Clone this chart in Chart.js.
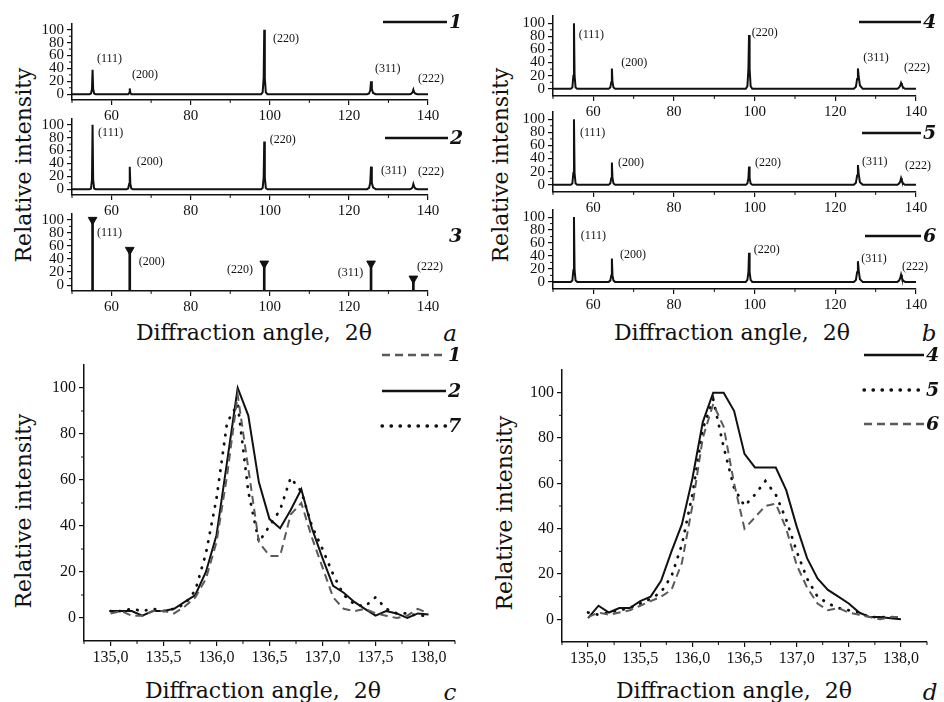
<!DOCTYPE html>
<html>
<head>
<meta charset="utf-8">
<script src="https://cdn.jsdelivr.net/npm/chart.js@4.4.1/dist/chart.umd.min.js"></script>
<style>
  body { margin: 0; background: #fff; }
  #fig { position: relative; width: 944px; height: 702px; overflow: hidden; }
  #fig canvas { position: absolute; left: 0; top: 0; }
  .t { position: absolute; font-family: "DejaVu Serif", serif; color: #111; white-space: nowrap; }
  .xt { font-size: 22px; transform: translate(-50%, -50%); }
  .yt { font-size: 22px; transform: translate(-50%, -50%) rotate(-90deg); }
  .pl { font-size: 23px; font-style: italic; transform: translate(-50%, -50%); }
</style>
</head>
<body>
<div id="fig">
  <div class="t xt" style="left:254px;top:332px">Diffraction angle,&nbsp; 2θ</div>
  <div class="t xt" style="left:732px;top:332px">Diffraction angle,&nbsp; 2θ</div>
  <div class="t xt" style="left:263px;top:690px">Diffraction angle,&nbsp; 2θ</div>
  <div class="t xt" style="left:734px;top:690px">Diffraction angle,&nbsp; 2θ</div>
  <div class="t yt" style="left:23px;top:165px">Relative intensity</div>
  <div class="t yt" style="left:500px;top:165px">Relative intensity</div>
  <div class="t yt" style="left:23px;top:511px">Relative intensity</div>
  <div class="t yt" style="left:504px;top:513px">Relative intensity</div>
  <div class="t pl" style="left:450px;top:333px">a</div>
  <div class="t pl" style="left:929px;top:333px">b</div>
  <div class="t pl" style="left:450px;top:692px">c</div>
  <div class="t pl" style="left:930px;top:692px">d</div>
</div>
<script>
// survey scans, 2θ sampling around each reflection
const scanAngles = [50,
  54.4, 54.8, 55.05, 55.2, 55.35, 55.6, 56.0,
  63.8, 64.2, 64.45, 64.6, 64.75, 65.0, 65.4,
  97.8, 98.2, 98.45, 98.6, 98.75, 99.0, 99.4,
  124.6, 125.1, 125.4, 125.6, 125.8, 126.1, 126.8,
  135.4, 135.8, 136.1, 136.3, 136.5, 136.8, 137.3,
  140];
const scan1 = [0, 0, 1, 8, 38, 8, 1, 0, 0, 0, 2, 9, 2, 0, 0, 0, 3, 25, 100, 25, 3, 0, 0, 1, 6, 20, 8, 2, 0, 0, 1, 3, 7, 3, 1, 0, 0];
const scan2 = [0, 0, 1, 15, 100, 15, 1, 0, 0, 1, 8, 35, 8, 1, 0, 0, 2, 18, 74, 18, 2, 0, 0, 2, 10, 35, 10, 3, 0, 0, 1, 3, 8, 4, 1, 0, 0];
const scan4 = [0, 0, 2, 20, 100, 20, 2, 0, 0, 2, 10, 31, 10, 2, 0, 0, 4, 30, 82, 30, 4, 0, 0, 3, 15, 31, 18, 5, 0, 0, 2, 5, 9, 6, 2, 0, 0];
const scan5 = [0, 0, 2, 18, 100, 18, 2, 0, 0, 2, 10, 34, 10, 2, 0, 0, 2, 10, 28, 10, 2, 0, 0, 3, 14, 30, 16, 4, 0, 0, 2, 5, 10, 6, 2, 0, 0];
const scan6 = [0, 0, 2, 18, 100, 18, 2, 0, 0, 2, 10, 36, 10, 2, 0, 0, 3, 15, 45, 15, 3, 0, 0, 3, 15, 32, 17, 4, 0, 0, 2, 6, 11, 6, 2, 0, 0];

// reference card (sticks)
const refAngles = [55.2, 64.6, 98.6, 125.6, 136.3];
const refHeights = [100, 54, 33, 33, 10];
const hkl = ["(111)", "(200)", "(220)", "(311)", "(222)"];

// (222) reflection, fine scan
const fineAngles = [135.0, 135.1, 135.2, 135.3, 135.4, 135.5, 135.6, 135.7, 135.8, 135.9,
  136.0, 136.1, 136.2, 136.3, 136.4, 136.5, 136.6, 136.7, 136.8, 136.9,
  137.0, 137.1, 137.2, 137.3, 137.4, 137.5, 137.6, 137.7, 137.8, 137.9, 138.0];
const fine1 = [2, 3, 1, 1, 3, 3, 2, 5, 9, 17, 33, 62, 97, 65, 33, 27, 27, 45, 50, 35, 22, 9, 4, 3, 4, 2, 1, 0, 1, 4, 2];
const fine2 = [3, 3, 3, 1, 3, 3, 4, 7, 10, 20, 36, 68, 100, 88, 59, 43, 39, 47, 56, 39, 26, 14, 11, 7, 4, 1, 3, 2, 0, 2, 1.5];
const fine7 = [3, 3, 4, 3, 4, 3, 4, 6, 12, 28, 52, 85, 93, 55, 33, 40, 47, 61, 55, 40, 30, 19, 10, 6, 5, 9, 4, 2, 2, 1, 1];
const fine4 = [0.5, 6, 3, 5, 5, 8, 10, 17, 30, 42, 62, 87, 100, 100, 92, 73, 67, 67, 67, 57, 41, 27, 18, 13, 10, 7, 3, 1, 1, 0.5, 0];
const fine5 = [3, 2, 3, 4, 5, 7, 9, 12, 19, 33, 55, 84, 97, 76, 58, 50, 55, 61, 55, 44, 30, 18, 10, 7, 5, 4, 3, 1, 1, 1, 1];
const fine6 = [1, 3, 2, 3, 4, 6, 8, 10, 13, 25, 50, 80, 95, 85, 60, 40, 45, 50, 51, 40, 24, 14, 7, 4, 5, 3, 2, 1, 0, 1, 1];

// axis ticks
const wideTicks = [60, 80, 100, 120, 140];
const wideMinor = [50, 70, 90, 110, 130];
const fineTicks = [135, 135.5, 136, 136.5, 137, 137.5, 138];
const fineMinor = [134.75, 135.25, 135.75, 136.25, 136.75, 137.25, 137.75, 138.25];
const intensityTicks = [0, 20, 40, 60, 80, 100];
const intensityMinor = [10, 30, 50, 70, 90];

const fig = document.getElementById("fig");
const PAGE_W = 944, PAGE_H = 702;
const AXIS_W = 40, AXIS_H = 30;
const INK = "#111";

const solid = { borderColor: INK, borderWidth: 2 };
const dashed = { borderColor: "#5a5a5a", borderWidth: 2, borderDash: [8, 5] };
const dotted = { borderColor: INK, borderWidth: 2.8, borderDash: [0.5, 8.5], borderCapStyle: "round" };

const pairs = (xs, ys) => xs.map((x, i) => ({ x, y: ys[i] }));

// fixed axis boxes so every plot area lands where we want it
function pinAxis(scale) {
  if (scale.isHorizontal()) scale.height = AXIS_H;
  else scale.width = AXIS_W;
  scale.paddingLeft = scale.paddingRight = scale.paddingTop = scale.paddingBottom = 0;
}

// minor ticks, hkl tags and the numbered keys
function extras(cfg) {
  return {
    id: "extras",
    afterDraw(chart) {
      const { ctx } = chart;
      const x = chart.scales.x, y = chart.scales.y;
      ctx.save();
      ctx.strokeStyle = INK;
      ctx.lineWidth = 1;
      ctx.beginPath();
      cfg.xMinor.forEach(v => {
        const p = x.getPixelForValue(v);
        ctx.moveTo(p, x.top); ctx.lineTo(p, x.top + 3);
      });
      intensityMinor.forEach(v => {
        const p = y.getPixelForValue(v);
        ctx.moveTo(y.right, p); ctx.lineTo(y.right - 3, p);
      });
      ctx.stroke();

      ctx.fillStyle = INK;
      ctx.textBaseline = "middle";
      ctx.font = "12px 'Liberation Serif'";
      (cfg.tags || []).forEach((t, i) => {
        if (!t) return;
        ctx.textAlign = t[2] || "left";
        ctx.fillText(hkl[i], x.getPixelForValue(t[0]), y.getPixelForValue(t[1]));
      });

      (cfg.keys || []).forEach(k => {
        if (k.style) {
          ctx.save();
          ctx.strokeStyle = k.style.borderColor;
          ctx.lineWidth = k.style.borderWidth + 0.5;
          ctx.setLineDash(k.style.borderDash || []);
          ctx.lineCap = k.style.borderCapStyle || "butt";
          ctx.beginPath();
          ctx.moveTo(k.x0, k.y); ctx.lineTo(k.x1, k.y);
          ctx.stroke();
          ctx.restore();
        }
        ctx.textAlign = "left";
        ctx.font = "italic bold 19px 'DejaVu Serif'";
        ctx.fillText(k.label, k.x1 + 2, k.y + 1);
      });
      ctx.restore();
    }
  };
}

function plot(area, cfg) {
  const canvas = document.createElement("canvas");
  canvas.width = PAGE_W;
  canvas.height = PAGE_H;
  fig.appendChild(canvas);
  const tickFont = { family: "Liberation Serif", size: cfg.fontSize };
  return new Chart(canvas, {
    type: cfg.type || "line",
    data: { datasets: cfg.datasets },
    options: {
      responsive: false,
      animation: false,
      events: [],
      layout: {
        padding: {
          left: area.left - AXIS_W,
          top: area.top,
          right: PAGE_W - area.right,
          bottom: PAGE_H - area.bottom - AXIS_H
        }
      },
      plugins: { legend: { display: false }, tooltip: { enabled: false } },
      elements: { point: { radius: 0 }, line: { tension: 0 } },
      scales: {
        x: {
          type: "linear", min: cfg.xRange[0], max: cfg.xRange[1], offset: false,
          afterBuildTicks: s => { s.ticks = cfg.xTicks.map(v => ({ value: v })); },
          afterFit: pinAxis,
          ticks: { autoSkip: false, maxRotation: 0, padding: 2, color: INK, font: tickFont, callback: cfg.xLabel },
          grid: { offset: false, drawOnChartArea: false, tickLength: 5, color: INK, lineWidth: 1.2 },
          border: { color: INK, width: 1.5 }
        },
        y: {
          type: "linear", min: cfg.yRange[0], max: cfg.yRange[1],
          afterBuildTicks: s => { s.ticks = intensityTicks.map(v => ({ value: v })); },
          afterFit: pinAxis,
          ticks: { autoSkip: false, padding: 3, color: INK, font: tickFont, callback: v => v },
          grid: { drawOnChartArea: false, tickLength: 5, color: INK, lineWidth: 1.2 },
          border: { color: INK, width: 1.5 }
        }
      }
    },
    plugins: [extras(cfg)]
  });
}

const wide = { xRange: [50, 140], xTicks: wideTicks, xMinor: wideMinor, xLabel: v => v, fontSize: 15 };
const fine = {
  xRange: [134.75, 138.25], xTicks: fineTicks, xMinor: fineMinor, fontSize: 16,
  xLabel: v => v.toFixed(1).replace(".", ","), yRange: [-10, 110]
};
const scanLine = ys => ({ data: pairs(scanAngles, ys), ...solid });

// a: samples 1, 2 and the reference card 3
plot({ left: 72, right: 428, top: 24, bottom: 100 }, {
  ...wide, yRange: [-9, 109],
  datasets: [scanLine(scan1)],
  tags: [[56.3, 55], [65.2, 30], [100.8, 86], [126.6, 39], [137.5, 24]],
  keys: [{ x0: 383, x1: 447, y: 22, label: "1", style: solid }]
});
plot({ left: 72, right: 428, top: 119, bottom: 195 }, {
  ...wide, yRange: [-9, 109],
  datasets: [scanLine(scan2)],
  tags: [[56.6, 88], [66.4, 42], [100.0, 77], [128.1, 29], [137.5, 27]],
  keys: [{ x0: 385, x1: 448, y: 138, label: "2", style: solid }]
});
plot({ left: 72, right: 428, top: 214, bottom: 291 }, {
  ...wide, yRange: [-9, 109], type: "bar",
  datasets: [
    { type: "bar", data: pairs(refAngles, refHeights), base: -9, barThickness: 2, backgroundColor: INK, grouped: false },
    { type: "line", data: pairs(refAngles, refHeights), showLine: false, pointStyle: "triangle",
      pointRotation: 180, pointRadius: 5, pointBackgroundColor: INK, pointBorderColor: INK }
  ],
  tags: [[56.3, 80], [66.9, 36], [89.2, 23], [117.2, 19], [137.2, 28]],
  keys: [{ x1: 447, y: 236, label: "3" }]
});

// b: samples 4, 5, 6
plot({ left: 553, right: 916, top: 16, bottom: 96 }, {
  ...wide, yRange: [-11, 111],
  datasets: [scanLine(scan4)],
  tags: [[56.4, 82], [66.9, 39], [99.3, 86], [126.9, 47], [137, 32]],
  keys: [{ x0: 859, x1: 921, y: 22, label: "4", style: solid }]
});
plot({ left: 553, right: 916, top: 112, bottom: 192 }, {
  ...wide, yRange: [-11, 111],
  datasets: [scanLine(scan5)],
  tags: [[56.7, 79], [66.1, 33], [100.1, 33], [126.6, 35], [137.3, 29]],
  keys: [{ x0: 862, x1: 921, y: 133, label: "5", style: solid }]
});
plot({ left: 553, right: 916, top: 210, bottom: 289 }, {
  ...wide, yRange: [-11, 111],
  datasets: [scanLine(scan6)],
  tags: [[56.9, 71], [66.6, 41], [99.8, 49], [126.4, 35], [136.5, 23]],
  keys: [{ x0: 865, x1: 921, y: 236, label: "6", style: solid }]
});

// c: (222) line of samples 1, 2, 7
plot({ left: 84, right: 455, top: 365, bottom: 641 }, {
  ...fine,
  datasets: [
    { data: pairs(fineAngles, fine1), ...dashed },
    { data: pairs(fineAngles, fine7), ...dotted },
    { data: pairs(fineAngles, fine2), ...solid }
  ],
  keys: [
    { x0: 382, x1: 446, y: 355, label: "1", style: dashed },
    { x0: 382, x1: 446, y: 391, label: "2", style: solid },
    { x0: 382, x1: 446, y: 426, label: "7", style: dotted }
  ]
});

// d: (222) line of samples 4, 5, 6
plot({ left: 562, right: 927, top: 370, bottom: 642 }, {
  ...fine,
  datasets: [
    { data: pairs(fineAngles, fine6), ...dashed },
    { data: pairs(fineAngles, fine5), ...dotted },
    { data: pairs(fineAngles, fine4), ...solid }
  ],
  keys: [
    { x0: 864, x1: 924, y: 355, label: "4", style: solid },
    { x0: 864, x1: 924, y: 390, label: "5", style: dotted },
    { x0: 864, x1: 924, y: 424, label: "6", style: dashed }
  ]
});
</script>
</body>
</html>
